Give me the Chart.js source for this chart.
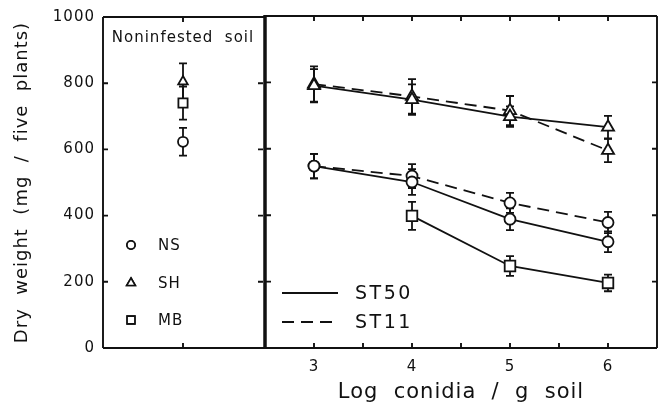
<!DOCTYPE html>
<html>
<head>
<meta charset="utf-8">
<script src="https://cdn.jsdelivr.net/npm/chart.js@4.4.0/dist/chart.umd.min.js"></script>
<style>
body { margin: 0; background: #fff; }
#wrap { position: relative; width: 658px; height: 407px; }
#left { position: absolute; left: 0; top: 0; }
#right { position: absolute; left: 258px; top: 0; }
</style>
</head>
<body>
<div id="wrap">
<canvas id="left" width="265" height="407"></canvas>
<canvas id="right" width="400" height="407"></canvas>
</div>
<script>
const FONT = "'DejaVu Sans', sans-serif";
const INK = '#111';

// data
const doses = [3, 4, 5, 6];
const xTicks = [3, 3.5, 4, 4.5, 5, 5.5, 6];
const yTicks = [200, 400, 600, 800];

const nsST50 = [548, 500, 388, 320];
const nsST11 = [548, 518, 437, 378];
const shST50 = [790, 748, 697, 665];
const shST11 = [795, 758, 715, 595];
const mbST50 = [null, 398, 247, 196];

const nsST50Err = [37, 39, 33, 31];
const nsST11Err = [37, 36, 30, 32];
const shST50Err = [50, 46, 31, 34];
const shST11Err = [53, 52, 44, 35];
const mbST50Err = [null, 42, 30, 25];

const controlLabels = ['NS', 'SH', 'MB'];
const controlValues = [623, 805, 740];
const controlErrors = [42, 55, 50];
const markers = ['circle', 'triangle', 'rect'];
const strainLabels = ['ST50', 'ST11'];

function toPoints(vals) {
	return doses.map((d, i) => ({x: d, y: vals[i]}));
}

// the scanned figure uses a wide, loosely spaced lettering
const spacing = {
	id: 'spacing',
	beforeDraw(chart) { chart.ctx.letterSpacing = '1px'; }
};

const errorBars = {
	id: 'errorBars',
	beforeDatasetsDraw(chart) {
		const {ctx, scales: {x, y}} = chart;
		ctx.save();
		ctx.strokeStyle = INK;
		ctx.lineWidth = 1.8;
		chart.data.datasets.forEach(ds => {
			(ds.errors || []).forEach((e, i) => {
				const p = ds.data[i];
				if (e == null || p.y == null) return;
				const px = x.getPixelForValue(p.x);
				const hi = y.getPixelForValue(p.y + e);
				const lo = y.getPixelForValue(p.y - e);
				ctx.beginPath();
				ctx.moveTo(px, hi); ctx.lineTo(px, lo);
				ctx.moveTo(px - 4, hi); ctx.lineTo(px + 4, hi);
				ctx.moveTo(px - 4, lo); ctx.lineTo(px + 4, lo);
				ctx.stroke();
			});
		});
		ctx.restore();
	}
};

function tick(ctx, x1, y1, x2, y2) {
	ctx.moveTo(x1, y1); ctx.lineTo(x2, y2);
}

const leftDecor = {
	id: 'leftDecor',
	afterDraw(chart) {
		const {ctx, chartArea: a, scales: {x, y}} = chart;
		ctx.save();
		ctx.strokeStyle = INK;
		ctx.lineWidth = 1.9;
		ctx.beginPath();
		tick(ctx, a.left, a.top, a.left, a.bottom);
		tick(ctx, a.left, a.top, a.right + 2, a.top);
		tick(ctx, a.left, a.bottom, a.right + 2, a.bottom);
		yTicks.concat([1000]).forEach(v => {
			const py = y.getPixelForValue(v);
			tick(ctx, a.left, py, a.left + 5, py);
			tick(ctx, a.right, py, a.right - 5, py);
		});
		const cx = x.getPixelForValue(1);
		tick(ctx, cx, a.top, cx, a.top + 5);
		tick(ctx, cx, a.bottom, cx, a.bottom - 5);
		ctx.stroke();

		ctx.fillStyle = INK;
		ctx.letterSpacing = '1px';
		ctx.textBaseline = 'middle';
		ctx.textAlign = 'center';
		ctx.font = '15px ' + FONT;
		ctx.fillText('Noninfested  soil', (a.left + a.right) / 2, a.top + 21);

		ctx.textAlign = 'left';
		ctx.font = '15px ' + FONT;
		const rows = [103, 65, 28];
		const sizes = [4, 5, 5.5];
		controlLabels.forEach((lab, i) => {
			const ry = a.bottom - rows[i];
			Chart.helpers.drawPoint(ctx, {pointStyle: markers[i], radius: sizes[i], rotation: 0, borderWidth: 1.6}, a.left + 28, ry);
			ctx.fillStyle = '#fff';
			ctx.fill();
			ctx.lineWidth = 1.6;
			ctx.stroke();
			ctx.fillStyle = INK;
			ctx.fillText(lab, a.left + 55, ry + 1);
		});
		ctx.restore();
	}
};

const rightDecor = {
	id: 'rightDecor',
	afterDraw(chart) {
		const {ctx, chartArea: a, scales: {x, y}} = chart;
		ctx.save();
		ctx.strokeStyle = INK;
		ctx.lineWidth = 1.9;
		ctx.beginPath();
		tick(ctx, a.left, a.top, a.right, a.top);
		tick(ctx, a.left, a.bottom, a.right, a.bottom);
		tick(ctx, a.right, a.top, a.right, a.bottom);
		xTicks.forEach(v => {
			const px = x.getPixelForValue(v);
			tick(ctx, px, a.top, px, a.top + 5);
			tick(ctx, px, a.bottom, px, a.bottom - 5);
		});
		yTicks.forEach(v => {
			const py = y.getPixelForValue(v);
			tick(ctx, a.left, py, a.left + 6, py);
			tick(ctx, a.right, py, a.right - 5, py);
		});
		ctx.stroke();

		ctx.lineWidth = 3.5;
		ctx.beginPath();
		tick(ctx, a.left, a.top - 1, a.left, a.bottom + 1);
		ctx.stroke();

		// line style key
		ctx.lineWidth = 1.8;
		const rows = [55, 26];
		strainLabels.forEach((lab, i) => {
			const ry = a.bottom - rows[i];
			ctx.setLineDash(i === 0 ? [] : [12, 7]);
			ctx.beginPath();
			tick(ctx, a.left + 17, ry, a.left + 73, ry);
			ctx.stroke();
			ctx.setLineDash([]);
			ctx.fillStyle = INK;
			ctx.letterSpacing = '2.5px';
			ctx.font = '19px ' + FONT;
			ctx.textBaseline = 'middle';
			ctx.fillText(lab, a.left + 90, ry + 1);
		});
		ctx.restore();
	}
};

function series(vals, errs, style, radius, dashed) {
	return {
		data: toPoints(vals),
		errors: errs,
		borderColor: INK,
		borderWidth: 1.8,
		borderDash: dashed ? [12, 7] : [],
		backgroundColor: '#fff',
		pointStyle: style,
		pointRadius: radius,
		pointBorderWidth: 1.8,
		pointBackgroundColor: '#fff',
		pointBorderColor: INK,
		tension: 0,
		spanGaps: false
	};
}

new Chart(document.getElementById('right'), {
	type: 'line',
	data: {
		datasets: [
			series(shST50, shST50Err, 'triangle', 7, false),
			series(shST11, shST11Err, 'triangle', 7, true),
			series(nsST50, nsST50Err, 'circle', 5.5, false),
			series(nsST11, nsST11Err, 'circle', 5.5, true),
			series(mbST50, mbST50Err, 'rect', 7.5, false)
		]
	},
	options: {
		responsive: false,
		animation: false,
		layout: {autoPadding: false, padding: {top: 16, left: 7, right: 1, bottom: 0}},
		plugins: {legend: {display: false}, tooltip: {enabled: false}},
		scales: {
			x: {
				type: 'linear',
				min: 2.5,
				max: 6.5,
				afterBuildTicks: scale => { scale.ticks = xTicks.map(v => ({value: v})); },
				ticks: {
					callback: v => Number.isInteger(v) ? String(v) : '',
					font: {family: FONT, size: 15},
					color: INK,
					padding: 10,
					autoSkip: false,
					maxRotation: 0
				},
				grid: {display: false, drawTicks: false},
				border: {display: false},
				title: {
					display: true,
					text: 'Log  conidia  /  g  soil',
					font: {family: FONT, size: 21},
					color: INK,
					padding: {top: 0, bottom: 2}
				},
				afterFit: s => { s.height = 59; }
			},
			y: {
				display: false,
				min: 0,
				max: 1000
			}
		}
	},
	plugins: [spacing, errorBars, rightDecor]
});

new Chart(document.getElementById('left'), {
	type: 'line',
	data: {
		datasets: controlValues.map((v, i) => ({
			data: [{x: 1, y: v}],
			errors: [controlErrors[i]],
			pointStyle: markers[i],
			pointRadius: [5, 5.5, 6.5][i],
			pointBorderWidth: 1.8,
			pointBackgroundColor: '#fff',
			pointBorderColor: INK,
			showLine: false
		})).reverse()
	},
	options: {
		responsive: false,
		animation: false,
		layout: {autoPadding: false, padding: {top: 16, left: 8, right: 2, bottom: 59}},
		plugins: {legend: {display: false}, tooltip: {enabled: false}},
		scales: {
			x: {type: 'linear', min: 0, max: 2, display: false},
			y: {
				min: 0,
				max: 1000,
				ticks: {stepSize: 200, callback: v => String(v), font: {family: FONT, size: 15}, color: INK, padding: 8},
				grid: {display: false, drawTicks: false},
				border: {display: false},
				title: {
					display: true,
					text: 'Dry  weight  (mg  /  five  plants)',
					font: {family: FONT, size: 18},
					color: INK,
					padding: {top: 4, bottom: 4}
				},
				afterFit: s => { s.width = 95; }
			}
		}
	},
	plugins: [spacing, errorBars, leftDecor]
});
</script>
</body>
</html>
